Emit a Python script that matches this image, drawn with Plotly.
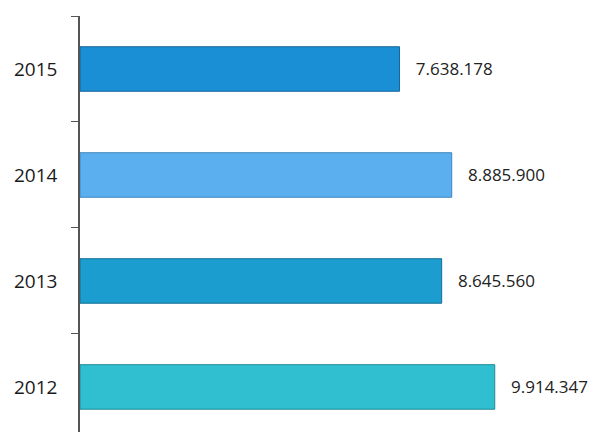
import plotly.graph_objects as go

years = ["2012", "2013", "2014", "2015"]
values = [9914347, 8645560, 8885900, 7638178]
colors = ["#2fbfd1", "#1b9ecf", "#5cafef", "#1b8fd6"]
edges = ["#1f8a96", "#146f92", "#3d86bf", "#14679a"]

def fmt(v):
    return "\u00a0\u00a0\u00a0" + f"{v:,}".replace(",", ".")

fig = go.Figure()
fig.add_trace(go.Bar(
    y=years, x=values, orientation="h", width=0.42,
    marker=dict(color=colors, line=dict(color=edges, width=1)),
    text=[fmt(v) for v in values], textposition="outside", cliponaxis=False,
    textfont=dict(family="Open Sans", size=17, color="#222222"),
    hoverinfo="skip",
))

fig.update_layout(
    width=593, height=432,
    margin=dict(l=80, r=11, t=16, b=0),
    paper_bgcolor="white", plot_bgcolor="white",
    showlegend=False,
    bargap=0.6,
)
fig.update_xaxes(range=[0, 12000000], showticklabels=False, ticks="",
                 showline=False, showgrid=False, zeroline=False)
fig.update_yaxes(
    type="category", categoryorder="array", categoryarray=years,
    range=[-0.425, 3.5],
    showline=True, linecolor="#555555", linewidth=1.5,
    ticks="outside", tickson="boundaries", ticklen=7, tickcolor="#555555",
    showgrid=False, zeroline=False,
    tickfont=dict(family="Open Sans", size=19, color="#1a1a1a"),
    ticklabelstandoff=17,
)

fig.write_html("out.html")
